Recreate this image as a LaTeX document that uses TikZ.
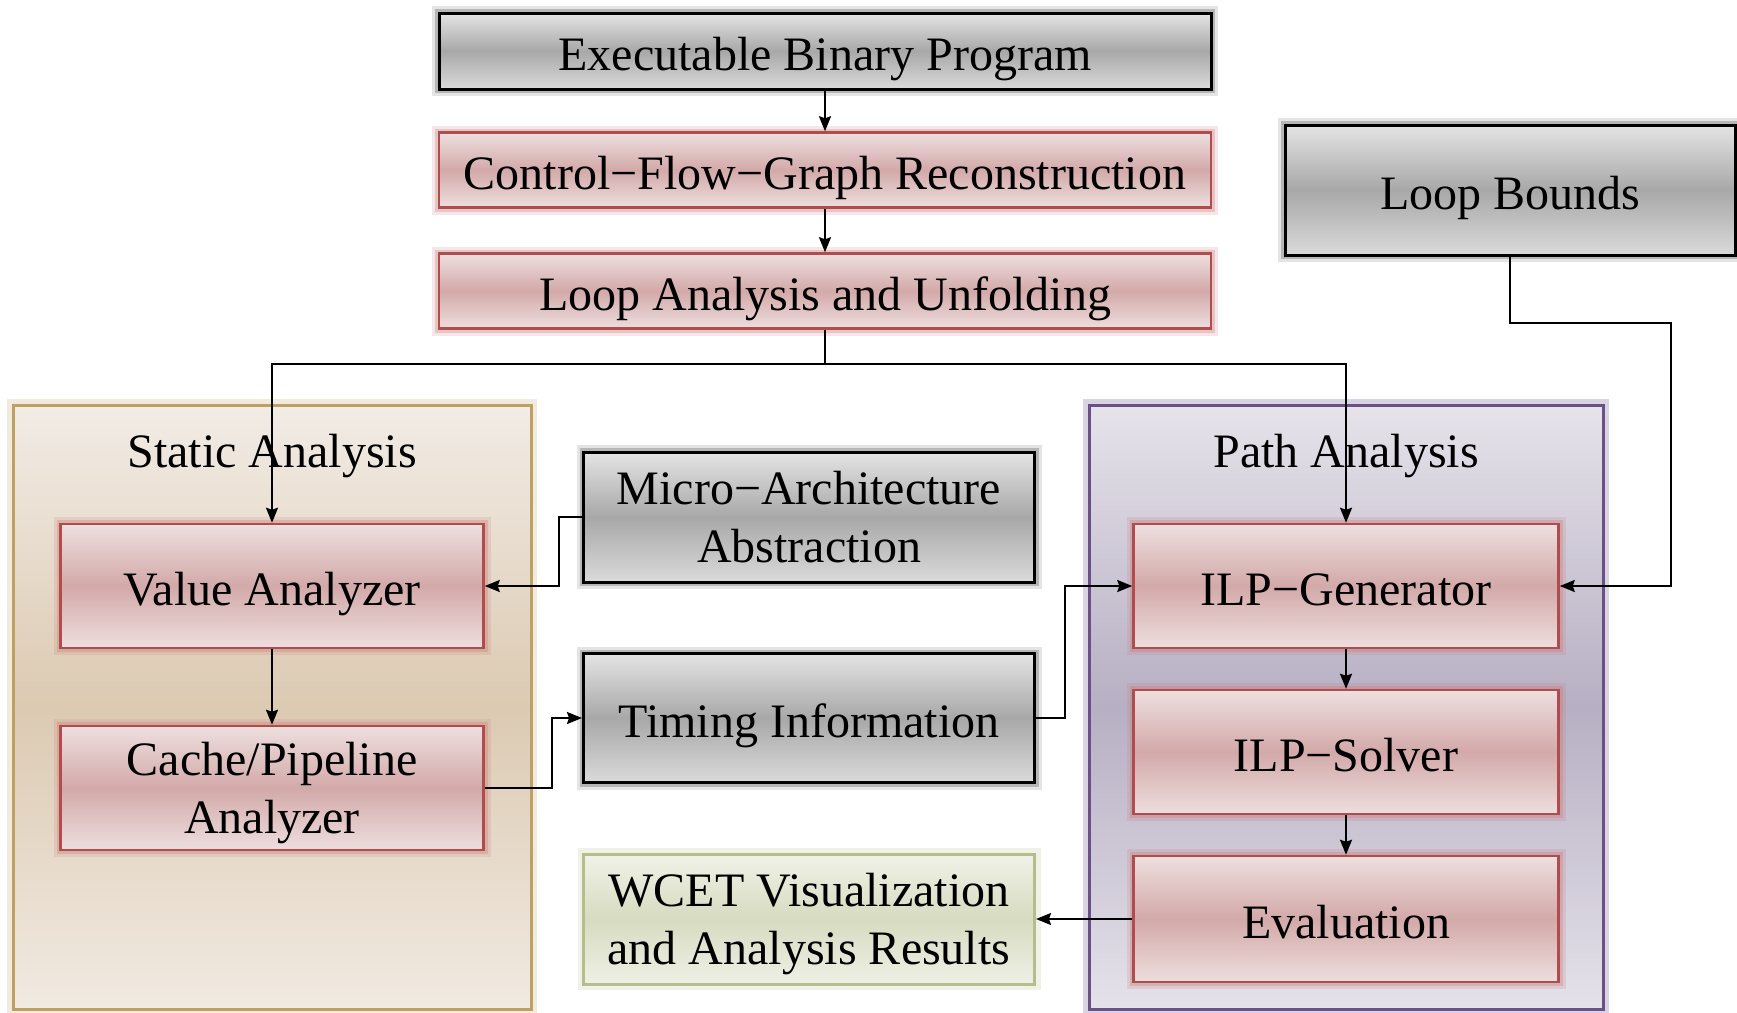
\documentclass[tikz,border=0pt]{standalone}
\usepackage{fontspec}
\setmainfont{Liberation Serif}
\usetikzlibrary{arrows.meta}
\definecolor{grayTop}{HTML}{E4E4E4}
\definecolor{grayMid}{HTML}{A8A8A8}
\definecolor{grayBot}{HTML}{DADADA}
\definecolor{redTop}{HTML}{EEDFDF}
\definecolor{redMid}{HTML}{D3A9A9}
\definecolor{redBot}{HTML}{EEDEDE}
\definecolor{redEdge}{HTML}{B04C4C}
\definecolor{redGlow}{HTML}{C87878}
\definecolor{sandTop}{HTML}{F2ECE6}
\definecolor{sandMid}{HTML}{DCCAB2}
\definecolor{sandBot}{HTML}{F1EAE2}
\definecolor{sandEdge}{HTML}{BFA064}
\definecolor{lilaTop}{HTML}{E6E3EA}
\definecolor{lilaMid}{HTML}{B7AFC3}
\definecolor{lilaBot}{HTML}{E5E2EA}
\definecolor{lilaEdge}{HTML}{6B5088}
\definecolor{olivTop}{HTML}{F1F2E8}
\definecolor{olivMid}{HTML}{D7DBC0}
\definecolor{olivBot}{HTML}{EFF0E6}
\definecolor{olivEdge}{HTML}{B5BD8A}
\begin{document}
\begin{tikzpicture}[x=1pt,y=-1pt,
  font=\fontsize{48}{58}\selectfont,
  box/.style={rectangle,align=center,inner sep=0pt,text height=38pt,text depth=0pt},
  twolines/.style={text height=,text depth=-7pt},
  graybox/.style={box,draw=black,line width=3pt,
    top color=grayTop,bottom color=grayBot,middle color=grayMid,
    preaction={draw=black!70,line width=14pt,opacity=0.15},
    preaction={draw=black!70,line width=8pt,opacity=0.3}},
  redbox/.style={box,draw=redEdge,line width=2.5pt,
    top color=redTop,bottom color=redBot,middle color=redMid,
    preaction={draw=redGlow,line width=14pt,opacity=0.18},
    preaction={draw=redGlow,line width=8pt,opacity=0.3}},
  greenbox/.style={box,draw=olivEdge,line width=3pt,
    top color=olivTop,bottom color=olivBot,middle color=olivMid,
    preaction={draw=olivEdge,line width=12pt,opacity=0.2}},
  staticbg/.style={box,draw=sandEdge,line width=3pt,
    top color=sandTop,bottom color=sandBot,middle color=sandMid,
    preaction={draw=sandEdge,line width=12pt,opacity=0.22}},
  pathbg/.style={box,draw=lilaEdge,line width=3pt,
    top color=lilaTop,bottom color=lilaBot,middle color=lilaMid,
    preaction={draw=lilaEdge,line width=12pt,opacity=0.25}},
  arr/.style={-{Stealth[length=15pt,width=12pt,inset=2pt]},line width=2pt}]
  \useasboundingbox (0,0) rectangle (1737,1012);

  % containers
  \node[staticbg,minimum width=518pt,minimum height=604pt] (static) at (272,707) {};
  \node[pathbg,minimum width=514pt,minimum height=604pt] (path) at (1346,707) {};
  \node (stitle) at (272,456) {Static Analysis};
  \node (ptitle) at (1346,456) {Path Analysis};

  % top chain
  \node[graybox,minimum width=772pt,minimum height=76pt] (exe) at (825,51) {Executable Binary Program};
  \node[redbox,minimum width=772pt,minimum height=75pt] (cfg) at (825,170) {Control−Flow−Graph Reconstruction};
  \node[redbox,minimum width=772pt,minimum height=75pt] (loopana) at (825,291) {Loop Analysis and Unfolding};
  \node[graybox,minimum width=450pt,minimum height=130pt] (bounds) at (1510,190) {Loop Bounds};

  % static analysis
  \node[redbox,minimum width=423pt,minimum height=124pt] (value) at (272,586) {Value Analyzer};
  \node[redbox,twolines,minimum width=423pt,minimum height=124pt] (cache) at (272,788) {Cache/Pipeline\\Analyzer};

  % middle column
  \node[graybox,twolines,minimum width=451pt,minimum height=130pt] (micro) at (809,517) {Micro−Architecture\\Abstraction};
  \node[graybox,minimum width=451pt,minimum height=129pt] (timing) at (809,718) {Timing Information};
  \node[greenbox,twolines,minimum width=451pt,minimum height=130pt] (wcet) at (809,919) {WCET Visualization\\and Analysis Results};

  % path analysis
  \node[redbox,minimum width=425pt,minimum height=124pt] (ilpgen) at (1346,586) {ILP−Generator};
  \node[redbox,minimum width=425pt,minimum height=124pt] (ilpsolve) at (1346,752) {ILP−Solver};
  \node[redbox,minimum width=425pt,minimum height=126pt] (eval) at (1346,919) {Evaluation};

  % connectors
  \coordinate (split) at ([yshift=-34pt]loopana.south);
  \draw[arr] (exe) -- (cfg);
  \draw[arr] (cfg) -- (loopana);
  \draw[arr] (loopana.south) -- (split) -| (value.north);
  \draw[arr] (split) -| (ilpgen.north);
  \draw[arr] (bounds.south) |- ++(161,66) |- (ilpgen.east);
  \draw[arr] (micro.west) -- ++(-23,0) |- (value.east);
  \draw[arr] (value) -- (cache);
  \draw[arr] (cache.east) -- ++(67,0) |- (timing.west);
  \draw[arr] (timing.east) -- ++(29,0) |- (ilpgen.west);
  \draw[arr] (ilpgen) -- (ilpsolve);
  \draw[arr] (ilpsolve) -- (eval);
  \draw[arr] (eval.west) -- (wcet.east);
\end{tikzpicture}
\end{document}
